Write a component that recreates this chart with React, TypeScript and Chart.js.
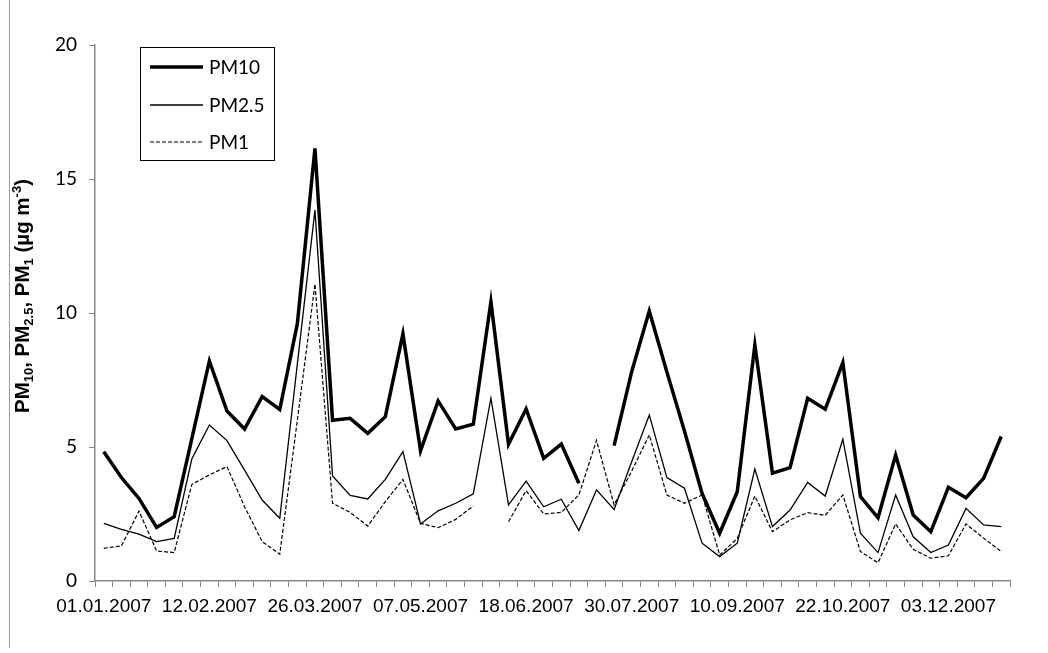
import React, { useEffect, useRef } from "react";
import { Chart, registerables } from "chart.js";

Chart.register(...registerables);

const dates: string[] = [
  "01.01.2007", "08.01.2007", "15.01.2007", "22.01.2007", "29.01.2007",
  "05.02.2007", "12.02.2007", "19.02.2007", "26.02.2007",
  "05.03.2007", "12.03.2007", "19.03.2007", "26.03.2007",
  "02.04.2007", "09.04.2007", "16.04.2007", "23.04.2007", "30.04.2007",
  "07.05.2007", "14.05.2007", "21.05.2007", "28.05.2007",
  "04.06.2007", "11.06.2007", "18.06.2007", "25.06.2007",
  "02.07.2007", "09.07.2007", "16.07.2007", "23.07.2007", "30.07.2007",
  "06.08.2007", "13.08.2007", "20.08.2007", "27.08.2007",
  "03.09.2007", "10.09.2007", "17.09.2007", "24.09.2007",
  "01.10.2007", "08.10.2007", "15.10.2007", "22.10.2007", "29.10.2007",
  "05.11.2007", "12.11.2007", "19.11.2007", "26.11.2007",
  "03.12.2007", "10.12.2007", "17.12.2007", "24.12.2007",
];

const pm10: (number | null)[] = [
  4.82, 3.86, 3.08, 2.0, 2.4, 5.3, 8.21, 6.34, 5.67, 6.88,
  6.4, 9.6, 16.14, 6.0, 6.07, 5.51, 6.13, 9.22, 4.86, 6.72,
  5.67, 5.85, 10.42, 5.1, 6.42, 4.58, 5.11, 3.65, null, 5.05,
  7.81, 10.07, 7.8, 5.6, 3.27, 1.78, 3.33, 8.81, 4.02, 4.23,
  6.82, 6.41, 8.15, 3.15, 2.36, 4.7, 2.46, 1.84, 3.5, 3.11,
  3.83, 5.39,
];

const pm25: (number | null)[] = [
  2.15, 1.93, 1.75, 1.47, 1.59, 4.55, 5.82, 5.24, 4.14, 3.02,
  2.34, 8.1, 13.84, 3.92, 3.19, 3.06, 3.79, 4.83, 2.13, 2.62,
  2.9, 3.25, 6.82, 2.84, 3.73, 2.77, 3.05, 1.88, 3.4, 2.67,
  4.45, 6.19, 3.86, 3.46, 1.41, 0.91, 1.41, 4.18, 2.03, 2.65,
  3.68, 3.17, 5.29, 1.78, 1.06, 3.21, 1.65, 1.06, 1.34, 2.71,
  2.09, 2.03,
];

const pm1: (number | null)[] = [
  1.22, 1.31, 2.61, 1.12, 1.06, 3.6, 3.96, 4.27, 2.77, 1.47,
  1.0, 6.0, 11.08, 2.9, 2.56, 2.05, 2.96, 3.79, 2.15, 1.99,
  2.3, 2.8, null, 2.21, 3.37, 2.5, 2.56, 3.21, 5.25, 2.84,
  4.1, 5.45, 3.21, 2.9, 3.21, 0.97, 1.59, 3.17, 1.84, 2.28,
  2.55, 2.45, 3.21, 1.1, 0.68, 2.13, 1.18, 0.85, 0.94, 2.13,
  1.6, 1.1,
];

const seriesNames = ["PM10", "PM2.5", "PM1"];
const yTicks = [0, 5, 10, 15, 20];
const labelEvery = 6;

const AXIS_GRAY = "#868686";
const TICK_FONT = "Lato";
const LABEL_FONT = "'Liberation Sans', Arial, sans-serif";

const yTitlePlugin = {
  id: "yTitle",
  afterDraw(chart: any) {
    const ctx = chart.ctx as CanvasRenderingContext2D;
    const segs: { t: string; s: number; dy: number }[] = [
      { t: "PM", s: 20.5, dy: 0 },
      { t: "10", s: 13, dy: 4 },
      { t: ", PM", s: 20.5, dy: 0 },
      { t: "2.5", s: 13, dy: 4 },
      { t: ", PM", s: 20.5, dy: 0 },
      { t: "1", s: 13, dy: 4 },
      { t: " (µg m", s: 20.5, dy: 0 },
      { t: "-3", s: 13, dy: -8 },
      { t: ")", s: 20.5, dy: 0 },
    ];
    ctx.save();
    let total = 0;
    for (const sg of segs) {
      ctx.font = `bold ${sg.s}px ${LABEL_FONT}`;
      total += ctx.measureText(sg.t).width;
    }
    ctx.translate(29, 296);
    ctx.rotate(-Math.PI / 2);
    ctx.fillStyle = "#000";
    ctx.textBaseline = "alphabetic";
    ctx.textAlign = "left";
    let x = -total / 2;
    for (const sg of segs) {
      ctx.font = `bold ${sg.s}px ${LABEL_FONT}`;
      ctx.fillText(sg.t, x, sg.dy);
      x += ctx.measureText(sg.t).width;
    }
    ctx.restore();
  },
};

const legendPlugin = {
  id: "customLegend",
  afterDraw(chart: any) {
    const ctx = chart.ctx as CanvasRenderingContext2D;
    ctx.save();
    ctx.strokeStyle = "#000";
    ctx.lineWidth = 1;
    ctx.strokeRect(140.5, 47.5, 134, 113);
    const ys = [67, 105, 142];
    chart.data.datasets.forEach((ds: any, i: number) => {
      ctx.beginPath();
      ctx.lineWidth = ds.borderWidth;
      ctx.setLineDash(ds.borderDash || []);
      ctx.strokeStyle = "#000";
      ctx.moveTo(150, ys[i]);
      ctx.lineTo(203, ys[i]);
      ctx.stroke();
      ctx.setLineDash([]);
      ctx.fillStyle = "#000";
      ctx.font = `19px ${TICK_FONT}`;
      ctx.textBaseline = "middle";
      ctx.textAlign = "left";
      ctx.fillText(ds.label, 209, ys[i] + 1);
    });
    ctx.restore();
  },
};

export default function App() {
  const canvasRef = useRef<HTMLCanvasElement | null>(null);

  useEffect(() => {
    if (!canvasRef.current) return;
    const chart = new Chart(canvasRef.current, {
      type: "line",
      data: {
        labels: dates,
        datasets: [
          {
            label: seriesNames[0],
            data: pm10,
            borderColor: "#000",
            borderWidth: 3.5,
            pointRadius: 0,
            tension: 0,
            spanGaps: false,
          },
          {
            label: seriesNames[1],
            data: pm25,
            borderColor: "#000",
            borderWidth: 1.3,
            pointRadius: 0,
            tension: 0,
            spanGaps: false,
          },
          {
            label: seriesNames[2],
            data: pm1,
            borderColor: "#000",
            borderWidth: 1.2,
            borderDash: [4, 2],
            pointRadius: 0,
            tension: 0,
            spanGaps: false,
          },
        ],
      },
      options: {
        animation: false,
        responsive: true,
        maintainAspectRatio: false,
        layout: { padding: { left: 40, top: 45, right: 38, bottom: 0 } },
        plugins: {
          legend: { display: false },
          tooltip: { enabled: false },
        },
        scales: {
          x: {
            type: "category",
            offset: true,
            grid: {
              offset: true,
              drawOnChartArea: false,
              drawTicks: true,
              tickLength: 6,
              color: AXIS_GRAY,
            },
            border: { color: AXIS_GRAY, width: 1.5 },
            ticks: {
              autoSkip: false,
              maxRotation: 0,
              minRotation: 0,
              padding: 8,
              color: "#000",
              font: { family: LABEL_FONT, size: 19 },
              callback: (_v: any, i: number) => (i % labelEvery === 0 ? dates[i] : ""),
            },
            afterFit: (s: any) => {
              s.height = 72;
            },
          },
          y: {
            min: yTicks[0],
            max: yTicks[yTicks.length - 1],
            afterBuildTicks: (s: any) => {
              s.ticks = yTicks.map((v) => ({ value: v }));
            },
            grid: {
              drawOnChartArea: false,
              drawTicks: true,
              tickLength: 6,
              color: AXIS_GRAY,
            },
            border: { color: AXIS_GRAY, width: 1.5 },
            ticks: {
              padding: 12,
              color: "#000",
              font: { family: TICK_FONT, size: 19 },
            },
            afterFit: (s: any) => {
              s.width = 55;
            },
          },
        },
      },
      plugins: [yTitlePlugin, legendPlugin],
    } as any);
    return () => chart.destroy();
  }, []);

  return (
    <div style={{ position: "absolute", left: 0, top: 0, width: 1048, height: 653, background: "#fff" }}>
      <div style={{ position: "absolute", left: 9, top: 0, width: 1, height: 648, background: "#9a9a9a" }} />
      <canvas ref={canvasRef} style={{ position: "absolute", left: 0, top: 0, width: 1048, height: 653 }} />
    </div>
  );
}
